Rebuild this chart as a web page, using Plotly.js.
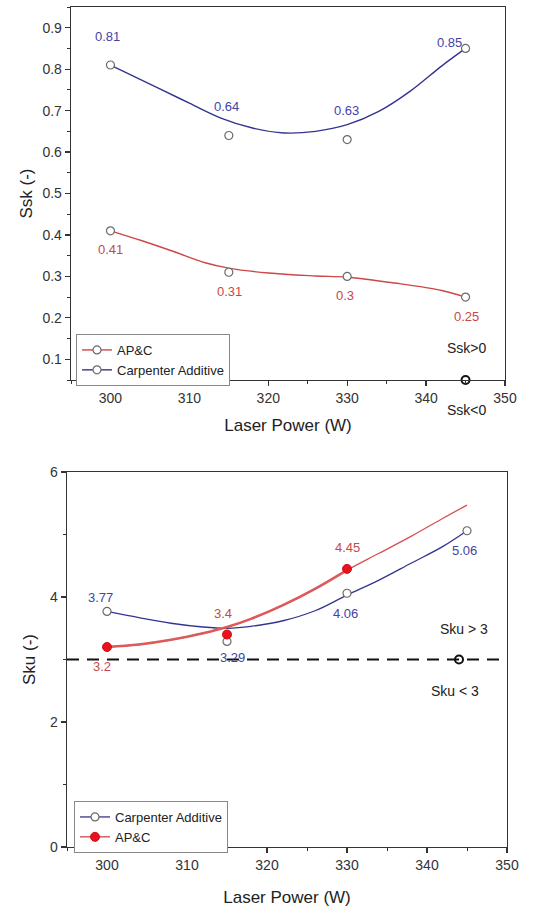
<!DOCTYPE html>
<html>
<head>
<meta charset="utf-8">
<script src="https://cdn.plot.ly/plotly-3.0.1.min.js"></script>
<style>html,body{margin:0;padding:0;background:#fff;}#chart{width:552px;height:907px;}</style>
</head>
<body>
<div id="chart"></div>
<script>
// ---------- data ----------
const laserPower = [300, 315, 330, 345];
const sskAPC = [0.41, 0.31, 0.3, 0.25];
const sskCarpenter = [0.81, 0.64, 0.63, 0.85];
const skuCarpenter = [3.77, 3.29, 4.06, 5.06];
const skuAPCPower = [300, 315, 330];
const skuAPC = [3.2, 3.4, 4.45];

// smoothed fit curves
const sskCarpFitX = [300, 306, 310, 314, 318, 322, 326, 330, 334, 338, 342, 345];
const sskCarpFitY = [0.81, 0.755, 0.718, 0.682, 0.658, 0.646, 0.650, 0.666, 0.698, 0.747, 0.808, 0.85];
const sskAPCFitX = [300, 304, 308, 312, 315, 320, 326, 330, 336, 342, 345];
const sskAPCFitY = [0.41, 0.386, 0.36, 0.333, 0.32, 0.308, 0.301, 0.298, 0.284, 0.266, 0.25];
const skuCarpFitX = [300, 304, 308, 312, 315, 318, 322, 326, 330, 334, 338, 342, 345];
const skuCarpFitY = [3.77, 3.67, 3.58, 3.52, 3.50, 3.53, 3.62, 3.78, 4.03, 4.27, 4.54, 4.81, 5.06];
const skuAPCFitX = [300, 304, 308, 312, 315, 318, 322, 326, 330, 334, 338, 342, 345];
const skuAPCFitY = [3.2, 3.24, 3.315, 3.42, 3.52, 3.65, 3.87, 4.13, 4.43, 4.70, 4.97, 5.26, 5.47];

// sign boundary markers
const sskSignX = [345], sskSignY = [0.05];
const skuSignX = [344], skuSignY = [3];
const skuThreshold = 3;

// ---------- styles ----------
const BLUE = '#34348f', BLUE_TXT = '#4343a6';
const RED = '#cc4747', RED_TXT = '#c64a4a', RED_FILL = '#e8121c';
const FONT = 'Liberation Sans, Arial, sans-serif';
const openMarker = {symbol: 'circle', size: 8, color: '#ffffff', line: {color: '#6a6a6a', width: 1.2}};

const traces = [];
// ---- top panel ----
traces.push({x: sskAPCFitX, y: sskAPCFitY, xaxis: 'x', yaxis: 'y', mode: 'lines', line: {color: RED, width: 1.4, shape: 'spline'}, showlegend: false, hoverinfo: 'skip'});
traces.push({x: sskCarpFitX, y: sskCarpFitY, xaxis: 'x', yaxis: 'y', mode: 'lines', line: {color: BLUE, width: 1.4, shape: 'spline'}, showlegend: false, hoverinfo: 'skip'});
traces.push({x: laserPower, y: sskAPC, xaxis: 'x', yaxis: 'y', mode: 'markers', marker: openMarker, showlegend: false});
traces.push({x: laserPower, y: sskCarpenter, xaxis: 'x', yaxis: 'y', mode: 'markers', marker: openMarker, showlegend: false});
traces.push({x: sskSignX, y: sskSignY, xaxis: 'x', yaxis: 'y', mode: 'markers', cliponaxis: false, marker: {symbol: 'circle', size: 8, color: '#fff', line: {color: '#111', width: 2}}, showlegend: false});
// legend entries (top)
traces.push({x: [null], y: [null], xaxis: 'x', yaxis: 'y', name: 'AP&C', mode: 'lines+markers', line: {color: RED, width: 1.4}, marker: openMarker, legend: 'legend'});
traces.push({x: [null], y: [null], xaxis: 'x', yaxis: 'y', name: 'Carpenter Additive', mode: 'lines+markers', line: {color: BLUE, width: 1.4}, marker: openMarker, legend: 'legend'});

// ---- bottom panel ----
const thickN = skuAPCFitX.filter(v => v <= skuAPCPower[skuAPCPower.length - 1]).length;
traces.push({x: skuCarpFitX, y: skuCarpFitY, xaxis: 'x2', yaxis: 'y2', mode: 'lines', line: {color: BLUE, width: 1.3, shape: 'spline'}, showlegend: false, hoverinfo: 'skip'});
traces.push({x: skuAPCFitX, y: skuAPCFitY, xaxis: 'x2', yaxis: 'y2', mode: 'lines', line: {color: '#d85050', width: 1.3, shape: 'spline'}, showlegend: false, hoverinfo: 'skip'});
traces.push({x: skuAPCFitX.slice(0, thickN), y: skuAPCFitY.slice(0, thickN), xaxis: 'x2', yaxis: 'y2', mode: 'lines', line: {color: '#de5a5a', width: 2.6, shape: 'spline'}, showlegend: false, hoverinfo: 'skip'});
traces.push({x: laserPower, y: skuCarpenter, xaxis: 'x2', yaxis: 'y2', mode: 'markers', marker: openMarker, showlegend: false});
traces.push({x: skuAPCPower, y: skuAPC, xaxis: 'x2', yaxis: 'y2', mode: 'markers', marker: {symbol: 'circle', size: 9, color: RED_FILL, line: {color: '#d01018', width: 1}}, showlegend: false});
traces.push({x: skuSignX, y: skuSignY, xaxis: 'x2', yaxis: 'y2', mode: 'markers', cliponaxis: false, marker: {symbol: 'circle', size: 8, color: '#fff', line: {color: '#111', width: 2}}, showlegend: false});
// legend entries (bottom)
traces.push({x: [null], y: [null], xaxis: 'x2', yaxis: 'y2', name: 'Carpenter Additive', mode: 'lines+markers', line: {color: BLUE, width: 1.3}, marker: openMarker, legend: 'legend2'});
traces.push({x: [null], y: [null], xaxis: 'x2', yaxis: 'y2', name: 'AP&C', mode: 'lines+markers', line: {color: RED, width: 1.3}, marker: {symbol: 'circle', size: 9, color: RED_FILL, line: {color: '#d01018', width: 1}}, legend: 'legend2'});

// ---------- value labels ----------
const annotations = [];
function addLabels(xs, ys, xr, yr, color, shifts) {
  xs.forEach((xv, i) => {
    annotations.push({x: xv, y: ys[i], xref: xr, yref: yr, text: String(ys[i]), showarrow: false,
      xshift: shifts[i][0], yshift: shifts[i][1], font: {size: 13, color: color, family: FONT}});
  });
}
addLabels(laserPower, sskCarpenter, 'x', 'y', BLUE_TXT, [[-3, 29], [-2, 29], [-1, 29], [-16, 6]]);
addLabels(laserPower, sskAPC, 'x', 'y', RED_TXT, [[0, -19], [1, -19], [-2, -19], [1, -19]]);
addLabels(laserPower, skuCarpenter, 'x2', 'y2', BLUE_TXT, [[-7, 14], [5, -16], [-2, -20], [-3, -20]]);
addLabels(skuAPCPower, skuAPC, 'x2', 'y2', RED_TXT, [[-5, -19], [-4, 21], [0, 21]]);

annotations.push({x: sskSignX[0], y: sskSignY[0], xref: 'x', yref: 'y', text: 'Ssk>0', showarrow: false, yshift: 32, xshift: 1, font: {size: 14, color: '#222', family: FONT}});
annotations.push({x: sskSignX[0], y: sskSignY[0], xref: 'x', yref: 'y', text: 'Ssk<0', showarrow: false, yshift: -30, xshift: 1, font: {size: 14, color: '#222', family: FONT}});
annotations.push({x: skuSignX[0], y: skuSignY[0], xref: 'x2', yref: 'y2', text: 'Sku > 3', showarrow: false, yshift: 31, xshift: 5, font: {size: 14, color: '#222', family: FONT}});
annotations.push({x: skuSignX[0], y: skuSignY[0], xref: 'x2', yref: 'y2', text: 'Sku < 3', showarrow: false, yshift: -31, xshift: -4, font: {size: 14, color: '#222', family: FONT}});

// ---------- axes ----------
function xAxis(domain, anchor, standoff) {
  return {domain: domain, anchor: anchor, range: [295, 350], tick0: 300, dtick: 10,
    ticks: 'outside', ticklen: 5, tickwidth: 1.2, tickcolor: '#333',
    minor: {dtick: 5, ticks: 'outside', ticklen: 3, tickwidth: 1, tickcolor: '#333'},
    showline: true, linecolor: '#333', linewidth: 1.3, mirror: true,
    showgrid: false, zeroline: false, tickfont: {size: 14, color: '#333', family: FONT},
    title: {text: 'Laser Power (W)', font: {size: 17, color: '#222', family: FONT}, standoff: standoff}};
}
function yAxis(domain, anchor, range, tick0, dtick, minorDtick, title, standoff) {
  return {domain: domain, anchor: anchor, range: range, tick0: tick0, dtick: dtick,
    ticks: 'outside', ticklen: 5, tickwidth: 1.2, tickcolor: '#333',
    minor: {dtick: minorDtick, ticks: 'outside', ticklen: 3, tickwidth: 1, tickcolor: '#333'},
    showline: true, linecolor: '#333', linewidth: 1.3, mirror: true,
    showgrid: false, zeroline: false, tickfont: {size: 14, color: '#333', family: FONT},
    title: {text: title, font: {size: 17, color: '#222', family: FONT}, standoff: standoff}};
}

const layout = {
  width: 552, height: 907,
  margin: {l: 0, r: 0, t: 0, b: 0},
  paper_bgcolor: '#ffffff', plot_bgcolor: '#ffffff',
  font: {family: FONT, color: '#222'},
  showlegend: true,
  xaxis: xAxis([71 / 552, 505 / 552], 'y', 14),
  yaxis: yAxis([527 / 907, 900 / 907], 'x', [0.05, 0.95], 0.1, 0.1, 0.05, 'Ssk (-)', 5),
  xaxis2: xAxis([67 / 552, 507 / 552], 'y2', 20),
  yaxis2: yAxis([60 / 907, 435 / 907], 'x2', [0, 6], 0, 2, 1, 'Sku (-)', 10),
  legend: {x: 76 / 552, y: 573 / 907, xanchor: 'left', yanchor: 'top', bgcolor: '#fff', bordercolor: '#888', borderwidth: 1,
    font: {size: 13, color: '#222', family: FONT}, itemwidth: 30, tracegroupgap: 0},
  legend2: {x: 74 / 552, y: 106 / 907, xanchor: 'left', yanchor: 'top', bgcolor: '#fff', bordercolor: '#888', borderwidth: 1,
    font: {size: 13, color: '#222', family: FONT}, itemwidth: 30, tracegroupgap: 0},
  shapes: [{type: 'line', xref: 'x2 domain', x0: 0, x1: 1, yref: 'y2', y0: skuThreshold, y1: skuThreshold,
    line: {color: '#111', width: 2.2, dash: '12px,8px'}}],
  annotations: annotations
};

Plotly.newPlot('chart', traces, layout, {displayModeBar: false, staticPlot: true});
</script>
</body>
</html>
